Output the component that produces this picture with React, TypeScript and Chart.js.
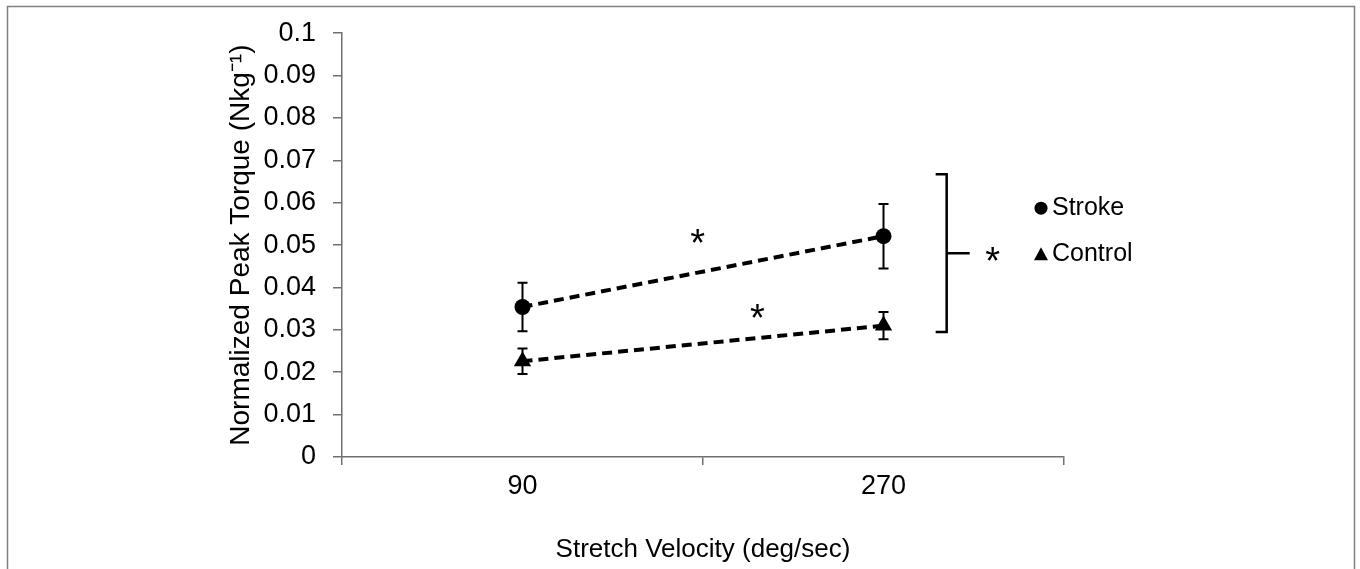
import React, { useEffect, useRef } from 'react';
import { Chart, registerables } from 'chart.js';

Chart.register(...registerables);

// ---- data ----
const categories = ['90', '270'];
const seriesLabels = ['Stroke', 'Control'];
const strokeMeans = [0.0354, 0.0521];
const strokeErrors = [0.0057, 0.0076];
const controlMeans = [0.0226, 0.031];
const controlErrors = [0.003, 0.0032];
const yTickLabels = ['0', '0.01', '0.02', '0.03', '0.04', '0.05', '0.06', '0.07', '0.08', '0.09', '0.1'];
const xTitle = 'Stretch Velocity (deg/sec)';
const yTitle = 'Normalized Peak Torque (Nkg\u207B\u00B9)';

// significance annotations (in data units: x = category index, y = value)
const asteriskXs = [0.485, 0.651];
const asteriskYs = [0.0524, 0.0347];
const bracketX = 1.175;
const bracketTop = 0.0667;
const bracketBottom = 0.0295;
const bracketMid = 0.0481;
const bracketStarX = 1.302;

const FONT = "'Liberation Sans', Arial, sans-serif";
const INK = '#000000';
const AXIS = '#707070';

const errorBarPlugin = {
  id: 'errorBars',
  afterDatasetsDraw(chart: any) {
    const { ctx, scales } = chart;
    const xs = scales.x;
    const ys = scales.y;
    const groups = [
      { means: strokeMeans, errs: strokeErrors },
      { means: controlMeans, errs: controlErrors },
    ];
    ctx.save();
    ctx.strokeStyle = INK;
    ctx.lineWidth = 2;
    ctx.setLineDash([]);
    groups.forEach((g) => {
      g.means.forEach((m, j) => {
        const x = xs.getPixelForValue(j);
        const yt = ys.getPixelForValue(m + g.errs[j]);
        const yb = ys.getPixelForValue(m - g.errs[j]);
        ctx.beginPath();
        ctx.moveTo(x, yt);
        ctx.lineTo(x, yb);
        ctx.moveTo(x - 5, yt);
        ctx.lineTo(x + 5, yt);
        ctx.moveTo(x - 5, yb);
        ctx.lineTo(x + 5, yb);
        ctx.stroke();
      });
    });
    ctx.restore();
  },
};

const annotationPlugin = {
  id: 'annotations',
  afterDraw(chart: any) {
    const { ctx, scales, chartArea } = chart;
    const xs = scales.x;
    const ys = scales.y;
    ctx.save();
    // frame
    ctx.strokeStyle = '#808080';
    ctx.lineWidth = 1.5;
    ctx.beginPath();
    ctx.moveTo(7.5, 569);
    ctx.lineTo(7.5, 6.5);
    ctx.lineTo(1354.5, 6.5);
    ctx.lineTo(1354.5, 569);
    ctx.stroke();

    // asterisks
    ctx.fillStyle = INK;
    ctx.textAlign = 'center';
    ctx.textBaseline = 'alphabetic';
    ctx.font = `38px ${FONT}`;
    asteriskXs.forEach((ax, i) => {
      const px = xs.getPixelForValue(ax);
      const py = ys.getPixelForValue(asteriskYs[i]);
      ctx.fillText('*', px, py + 21);
    });

    // bracket
    const bx = xs.getPixelForValue(bracketX);
    const bt = ys.getPixelForValue(bracketTop);
    const bb = ys.getPixelForValue(bracketBottom);
    const bm = ys.getPixelForValue(bracketMid);
    ctx.strokeStyle = INK;
    ctx.lineWidth = 2.5;
    ctx.beginPath();
    ctx.moveTo(bx - 11, bt);
    ctx.lineTo(bx, bt);
    ctx.lineTo(bx, bb);
    ctx.lineTo(bx - 11, bb);
    ctx.moveTo(bx, bm);
    ctx.lineTo(bx + 23, bm);
    ctx.stroke();
    ctx.fillText('*', xs.getPixelForValue(bracketStarX), bm + 21);

    // legend
    const lx = chartArea.right - 23;
    const ly1 = chartArea.top + 175;
    const ly2 = chartArea.top + 221;
    ctx.beginPath();
    ctx.arc(lx, ly1, 6.5, 0, Math.PI * 2);
    ctx.fill();
    ctx.beginPath();
    ctx.moveTo(lx, ly2 - 7);
    ctx.lineTo(lx + 7, ly2 + 6);
    ctx.lineTo(lx - 7, ly2 + 6);
    ctx.closePath();
    ctx.fill();
    ctx.font = `25px ${FONT}`;
    ctx.textAlign = 'left';
    ctx.textBaseline = 'middle';
    ctx.fillText(seriesLabels[0], lx + 11, ly1);
    ctx.fillText(seriesLabels[1], lx + 11, ly2);
    ctx.restore();
  },
};

export default function App() {
  const ref = useRef<HTMLCanvasElement | null>(null);
  useEffect(() => {
    document.body.style.margin = '0';
    const canvas = ref.current;
    if (!canvas) return;
    const chart = new Chart(canvas, {
      type: 'line',
      data: {
        labels: categories,
        datasets: [
          {
            label: seriesLabels[0],
            data: strokeMeans,
            borderColor: INK,
            backgroundColor: INK,
            borderWidth: 4,
            borderDash: [10, 6],
            pointStyle: 'circle',
            pointRadius: 8,
            pointBorderWidth: 0,
            fill: false,
          },
          {
            label: seriesLabels[1],
            data: controlMeans,
            borderColor: INK,
            backgroundColor: INK,
            borderWidth: 4,
            borderDash: [10, 6],
            pointStyle: 'triangle',
            pointRadius: 10,
            pointBorderWidth: 0,
            fill: false,
          },
        ],
      },
      options: {
        responsive: false,
        animation: false,
        devicePixelRatio: 1,
        layout: { padding: { left: 220, right: 296, top: 18, bottom: 0 } },
        plugins: {
          legend: { display: false },
          tooltip: { enabled: false },
        },
        scales: {
          x: {
            type: 'category',
            offset: true,
            grid: {
              offset: true,
              drawOnChartArea: false,
              drawTicks: true,
              tickLength: 8,
              color: AXIS,
              lineWidth: 1.5,
            },
            border: { color: AXIS, width: 1.5 },
            ticks: { color: INK, padding: 5, font: { family: FONT, size: 27 } },
            title: {
              display: true,
              text: xTitle,
              color: INK,
              font: { family: FONT, size: 26, lineHeight: 1.2 },
              padding: { top: 4, bottom: 4 },
            },
            afterFit(scale: any) {
              scale.height = 112;
            },
          },
          y: {
            min: 0,
            max: 0.1,
            grid: {
              drawOnChartArea: false,
              drawTicks: true,
              tickLength: 9,
              color: AXIS,
              lineWidth: 1.5,
            },
            border: { color: AXIS, width: 1.5 },
            ticks: {
              stepSize: 0.01,
              color: INK,
              padding: 17,
              font: { family: FONT, size: 27 },
              callback: (_v: any, i: number) => yTickLabels[i],
            },
            title: {
              display: true,
              text: yTitle,
              color: INK,
              font: { family: FONT, size: 28, lineHeight: 1.2 },
              padding: { top: 4, bottom: 4 },
            },
            afterFit(scale: any) {
              scale.width = 122;
            },
          },
        },
      },
      plugins: [errorBarPlugin, annotationPlugin],
    });
    return () => chart.destroy();
  }, []);
  return (
    <div style={{ position: 'fixed', left: 0, top: 0, width: 1360, height: 569, background: '#fff' }}>
      <canvas ref={ref} width={1360} height={569} style={{ display: 'block', width: 1360, height: 569 }} />
    </div>
  );
}
